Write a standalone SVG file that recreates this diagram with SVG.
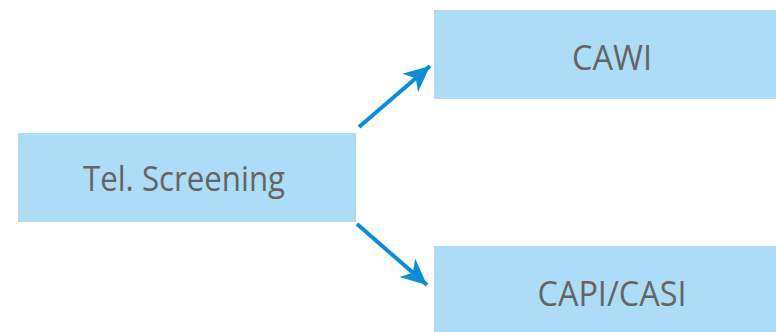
<svg xmlns="http://www.w3.org/2000/svg" width="776" height="332" viewBox="0 0 776 332">
<style>
.box{fill:#addcf6}
.lbl{font-family:"Open Sans","Noto Sans",sans-serif;font-size:35px;fill:#646464;text-anchor:middle}
.conn{stroke:#0b8cd9;stroke-width:4;fill:none}
</style>
<defs>
<marker id="ah" markerWidth="7" markerHeight="7" refX="6.5" refY="3.5" orient="auto" markerUnits="strokeWidth" overflow="visible">
<path d="M0,0.5 L6.5,3.5 L0,6.5 L1.8,3.5 Z" fill="#0b8cd9"/>
</marker>
</defs>
<rect width="776" height="332" fill="#ffffff"/>
<g id="tel">
<rect class="box" x="18" y="133" width="338" height="89"/>
<text class="lbl" x="184" y="191" textLength="202" lengthAdjust="spacingAndGlyphs">Tel. Screening</text>
</g>
<g id="cawi">
<rect class="box" x="434" y="10" width="342" height="89"/>
<text class="lbl" x="612" y="70" textLength="80" lengthAdjust="spacingAndGlyphs">CAWI</text>
</g>
<g id="capi">
<rect class="box" x="434" y="246" width="342" height="86"/>
<text class="lbl" x="612" y="306" textLength="149" lengthAdjust="spacingAndGlyphs">CAPI/CASI</text>
</g>
<g id="connectors">
<line class="conn" x1="359" y1="127" x2="430" y2="66" marker-end="url(#ah)"/>
<line class="conn" x1="357" y1="224" x2="427" y2="285" marker-end="url(#ah)"/>
</g>
</svg>
